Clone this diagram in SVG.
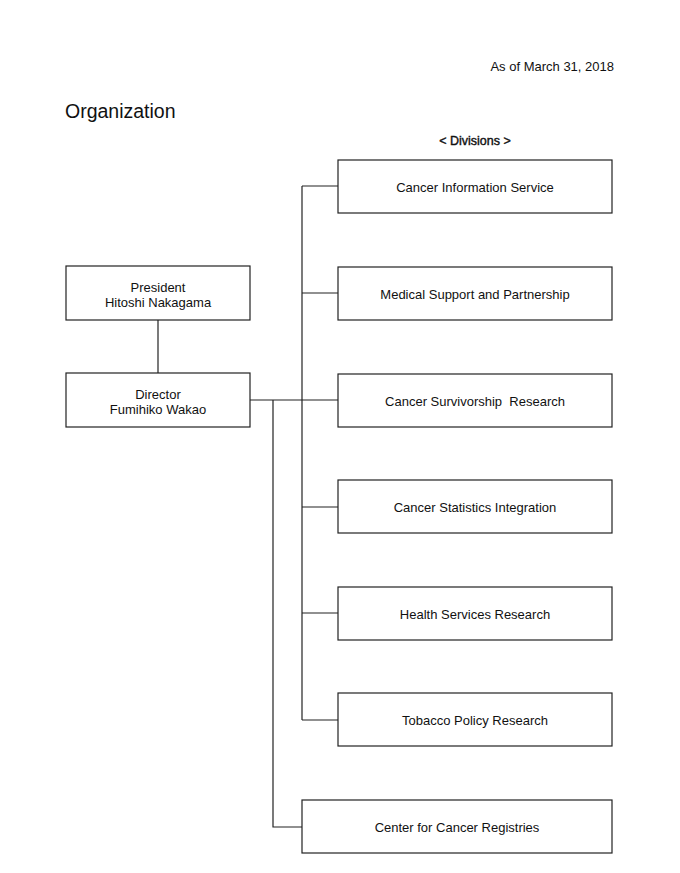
<svg xmlns="http://www.w3.org/2000/svg" width="680" height="873" viewBox="0 0 680 873">
<style>
.box{fill:#fff;stroke:#222;stroke-width:1.2}
.t{font-family:"Liberation Sans",Arial,sans-serif;font-size:13px;fill:#111;text-anchor:middle}
.c{fill:none;stroke:#222;stroke-width:1.2}
</style>
<rect width="680" height="873" fill="#fff"/>
<text x="614" y="71" style="font-family:'Liberation Sans',Arial,sans-serif;font-size:13px;fill:#111" text-anchor="end">As of March 31, 2018</text>
<text x="65" y="118" style="font-family:'Liberation Sans',Arial,sans-serif;font-size:19.5px;fill:#111">Organization</text>
<text x="475" y="145" class="t" style="font-size:12.5px;stroke:#111;stroke-width:0.4">&lt; Divisions &gt;</text>
<g id="connectors">
<path class="c" d="M158,320V373"/>
<path class="c" d="M250,400H338"/>
<path class="c" d="M302,186V720"/>
<path class="c" d="M302,186H338M302,293H338M302,507H338M302,613H338M302,720H338"/>
<path class="c" d="M273,400V827H302"/>
</g>
<g id="president"><rect class="box" x="66" y="266" width="184" height="54"/><text class="t" x="158" y="292">President</text><text class="t" x="158" y="307">Hitoshi Nakagama</text></g>
<g id="director"><rect class="box" x="66" y="373" width="184" height="54"/><text class="t" x="158" y="399">Director</text><text class="t" x="158" y="414">Fumihiko Wakao</text></g>
<g id="d1"><rect class="box" x="338" y="160" width="274" height="53"/><text class="t" x="475" y="192">Cancer Information Service</text></g>
<g id="d2"><rect class="box" x="338" y="267" width="274" height="53"/><text class="t" x="475" y="299">Medical Support and Partnership</text></g>
<g id="d3"><rect class="box" x="338" y="374" width="274" height="53"/><text class="t" x="475" y="406" xml:space="preserve">Cancer Survivorship  Research</text></g>
<g id="d4"><rect class="box" x="338" y="480" width="274" height="53"/><text class="t" x="475" y="512">Cancer Statistics Integration</text></g>
<g id="d5"><rect class="box" x="338" y="587" width="274" height="53"/><text class="t" x="475" y="619">Health Services Research</text></g>
<g id="d6"><rect class="box" x="338" y="693" width="274" height="53"/><text class="t" x="475" y="725">Tobacco Policy Research</text></g>
<g id="center"><rect class="box" x="302" y="800" width="310" height="53"/><text class="t" x="457" y="832">Center for Cancer Registries</text></g>
</svg>
